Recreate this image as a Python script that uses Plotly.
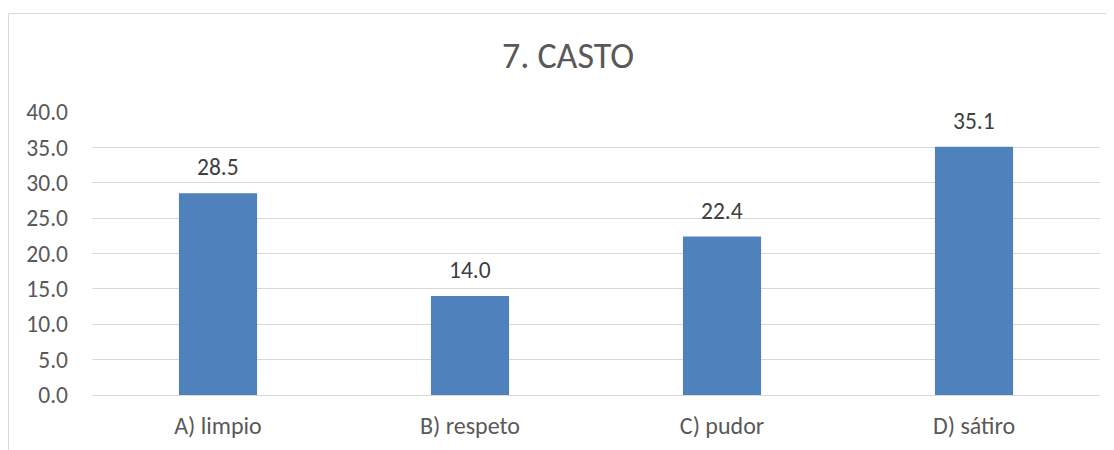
import plotly.graph_objects as go

categories = ["A) limpio", "B) respeto", "C) pudor", "D) sátiro"]
values = [28.5, 14.0, 22.4, 35.1]
y_ticks = [0, 5, 10, 15, 20, 25, 30, 35, 40]

FONT = "Calibri, Carlito, 'Open Sans', 'Noto Sans', sans-serif"

fig = go.Figure()
fig.add_trace(go.Bar(
    x=categories, y=values,
    marker=dict(color="#4F81BD", line=dict(width=0)),
    hoverinfo="skip",
))

for c, v in zip(categories, values):
    fig.add_annotation(
        x=c, y=v, text=f"{v:.1f}", showarrow=False,
        xanchor="center", yanchor="middle", yshift=26,
        font=dict(family=FONT, size=23.5, color="#404040"),
    )

# page body has an 8px margin; positions below are in the figure's own pixels
W, H = 1114, 450
L, R, T, B = 84, 22, 104, 63
pw = W - L - R
ph = H - T - B

def px_to_paper_x(px):
    return (px - L) / pw

def px_to_paper_y(py):
    return (H - B - py) / ph

border = "#d9d9d9"
fig.add_shape(type="line", xref="paper", yref="paper",
              x0=px_to_paper_x(0.5), x1=px_to_paper_x(W + 5),
              y0=px_to_paper_y(5.5), y1=px_to_paper_y(5.5),
              line=dict(color=border, width=1))
fig.add_shape(type="line", xref="paper", yref="paper",
              x0=px_to_paper_x(0.5), x1=px_to_paper_x(0.5),
              y0=px_to_paper_y(5.5), y1=px_to_paper_y(H + 5),
              line=dict(color=border, width=1))

fig.update_layout(
    width=W, height=H,
    margin=dict(l=L, r=R, t=T, b=B),
    paper_bgcolor="white", plot_bgcolor="white",
    bargap=0.69,
    showlegend=False,
    title=dict(text="7. CASTO", x=560 / W, xanchor="center", xref="container",
               y=1 - 47 / H, yanchor="middle",
               font=dict(family=FONT, size=36, color="#595959")),
    font=dict(family=FONT, size=24, color="#595959"),
)
fig.update_xaxes(
    showgrid=False, zeroline=False, showline=False,
    ticks="", ticklabelstandoff=14,
    tickfont=dict(family=FONT, size=24, color="#595959"),
)
fig.update_yaxes(
    range=[0, 40], tickvals=y_ticks, tickformat=".1f",
    showgrid=True, gridcolor="#d9d9d9", gridwidth=1,
    zeroline=True, zerolinecolor="#d9d9d9", zerolinewidth=1,
    showline=False, ticks="", ticklabelstandoff=23,
    tickfont=dict(family=FONT, size=23.5, color="#595959"),
)

fig.write_html("out.html")
